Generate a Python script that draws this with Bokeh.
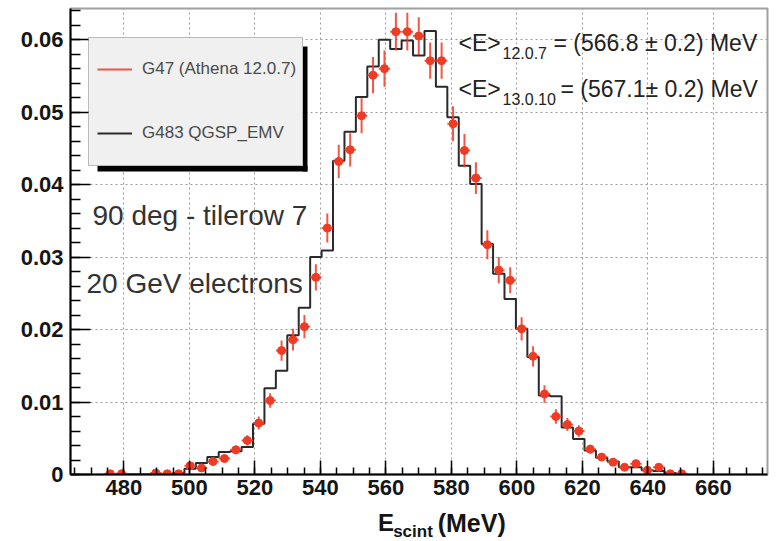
from bokeh.plotting import figure
from bokeh.layouts import column
from bokeh.models import (Range1d, SingleIntervalTicker, CustomJSTickFormatter, Label,
                          Legend, LegendItem, BoxAnnotation, ColumnDataSource)
from bokeh.embed import file_html
from bokeh.resources import INLINE

nan = float("nan")

# ---------------- data ----------------
bin_edges = [474.05, 477.54, 481.03, 484.52, 488.01, 491.50, 494.99, 498.48, 501.97, 505.46,
             508.95, 512.44, 515.93, 519.42, 522.91, 526.40, 529.89, 533.38, 536.87, 540.36,
             543.85, 547.34, 550.83, 554.32, 557.81, 561.30, 564.79, 568.28, 571.77, 575.26,
             578.75, 582.24, 585.73, 589.22, 592.71, 596.20, 599.69, 603.18, 606.67, 610.16,
             613.65, 617.14, 620.63, 624.12, 627.61, 631.10, 634.59, 638.08, 641.57, 645.06,
             648.55, 652.04]

# G47 (Athena 12.0.7): points with errors
g47_values = [0.0001, 0.0001, nan, nan, 0.0002, 0.0001, 0.0001, 0.0012, 0.0009, 0.0018,
              0.0022, 0.0034, 0.0047, 0.0071, 0.0102, 0.0171, 0.0186, 0.0204, 0.0272, 0.0340,
              0.0432, 0.0448, 0.0495, 0.0551, 0.0560, 0.0611, 0.0611, 0.0605, 0.0571, 0.0571,
              0.0484, 0.0447, 0.0409, 0.0317, 0.0282, 0.0268, 0.0201, 0.0163, 0.0111, 0.0080,
              0.0069, 0.0060, 0.0035, 0.0024, 0.0017, 0.0010, 0.0015, 0.0006, 0.0010, 0.0001,
              0.0001]
g47_errors = [0.0002, 0.0002, nan, nan, 0.0002, 0.0002, 0.0002, 0.0004, 0.0004, 0.0005,
              0.0005, 0.0006, 0.0007, 0.0009, 0.0010, 0.0014, 0.0015, 0.0016, 0.0018, 0.0020,
              0.0023, 0.0023, 0.0024, 0.0025, 0.0025, 0.0026, 0.0026, 0.0026, 0.0025, 0.0025,
              0.0024, 0.0023, 0.0022, 0.0020, 0.0018, 0.0018, 0.0016, 0.0014, 0.0012, 0.0010,
              0.0009, 0.0008, 0.0006, 0.0005, 0.0004, 0.0004, 0.0004, 0.0003, 0.0004, 0.0002,
              0.0002]

# G483 QGSP_EMV: step histogram
g483_values = [0.0, 0.0, 0.0, 0.0, 0.0, 0.0, 0.0002, 0.0008, 0.0016, 0.0024,
               0.0031, 0.0032, 0.0038, 0.0070, 0.0119, 0.0143, 0.0192, 0.0230, 0.0300, 0.0309,
               0.0433, 0.0473, 0.0521, 0.0563, 0.0600, 0.0587, 0.0599, 0.0578, 0.0612, 0.0535,
               0.0493, 0.0426, 0.0401, 0.0318, 0.0277, 0.0242, 0.0201, 0.0162, 0.0109, 0.0108,
               0.0065, 0.0049, 0.0033, 0.0023, 0.0018, 0.0010, 0.0010, 0.0006, 0.0005, 0.0002,
               0.0000]

series_names = ["G47 (Athena 12.0.7)", "G483 QGSP_EMV"]
mean_texts = [("<E>", "12.0.7", "= (566.8 \u00b1 0.2) MeV"),
              ("<E>", "13.0.10", "= (567.1\u00b1 0.2) MeV")]
info_texts = ["90 deg - tilerow 7", "20 GeV electrons"]
x_title = ("E", "scint", "(MeV)")

# ---------------- layout ----------------
W, H = 782, 541
H_MAIN = 506                      # main figure; axis title strip below it
FL, FR, FT, FB = 70, 767, 8, 474
X0, X1 = 463.7, 676.5
Y0, Y1 = 0.0, 0.0643
FONT = "Liberation Sans"


def px_x(px):
    return X0 + (px - FL) * (X1 - X0) / (FR - FL)


def px_y(py):
    return Y0 + (FB - py) * (Y1 - Y0) / (FB - FT)


p = figure(width=W, height=H_MAIN, output_backend="svg", toolbar_location=None,
           x_range=Range1d(X0, X1), y_range=Range1d(Y0, Y1),
           min_border_left=FL, min_border_right=W - FR, min_border_top=FT,
           min_border_bottom=H_MAIN - FB)
p.background_fill_color = "white"
p.border_fill_color = "white"
p.outline_line_color = "#a0a0a0"
p.outline_line_width = 2

# axes
p.xaxis.ticker = SingleIntervalTicker(interval=20, num_minor_ticks=4)
p.yaxis.ticker = SingleIntervalTicker(interval=0.01, num_minor_ticks=5)
p.yaxis.formatter = CustomJSTickFormatter(code="return Math.abs(tick) < 1e-9 ? '0' : tick.toFixed(2);")
for ax in (p.xaxis, p.yaxis):
    ax.axis_line_color = "black"
    ax.axis_line_width = 2
    ax.major_tick_line_color = "black"
    ax.minor_tick_line_color = "black"
    ax.major_tick_line_width = 1.5
    ax.minor_tick_line_width = 1.5
    ax.major_tick_out = 0
    ax.minor_tick_out = 0
    ax.major_label_text_font = FONT
    ax.major_label_text_font_style = "bold"
    ax.major_label_text_font_size = "22px"
    ax.major_label_text_color = "#151515"
p.xaxis.major_tick_in = 14
p.xaxis.minor_tick_in = 7
p.yaxis.major_tick_in = 20
p.yaxis.minor_tick_in = 10
p.xaxis.major_label_standoff = 5
p.yaxis.major_label_standoff = 7

for g in (p.xgrid, p.ygrid):
    g.grid_line_color = "#9a9a9a"
    g.grid_line_dash = "2 3"
    g.grid_line_width = 1

# ---------------- data renderers ----------------
centers = [(a + b) / 2 for a, b in zip(bin_edges[:-1], bin_edges[1:])]
lefts = bin_edges[:-1]
rights = bin_edges[1:]
src = ColumnDataSource(dict(
    x=centers, y=g47_values, left=lefts, right=rights,
    lo=[v - e for v, e in zip(g47_values, g47_errors)],
    hi=[v + e for v, e in zip(g47_values, g47_errors)]))

step_x = list(bin_edges)
step_y = list(g483_values) + [g483_values[-1]]
hist = p.step(x=step_x, y=step_y, mode="after", line_color="#2a2a2a", line_width=2)

RED = "#f03a24"
ebar_v = p.segment(x0="x", y0="lo", x1="x", y1="hi", source=src,
                   line_color=RED, line_width=2, line_alpha=0.85)
ebar_h = p.segment(x0="left", y0="y", x1="right", y1="y", source=src,
                   line_color=RED, line_width=2, line_alpha=0.85)
pts = p.scatter(x="x", y="y", source=src, size=8, fill_color=RED, line_color=RED)

# ---------------- legend (box, drop shadow, entries) ----------------
box = BoxAnnotation(left=px_x(88), right=px_x(302), top=px_y(37), bottom=px_y(165),
                    fill_color="#f0f0f0", fill_alpha=1.0, line_color="#333333", line_width=1)
shadow_right = BoxAnnotation(left=px_x(302.5), right=px_x(307), top=px_y(46), bottom=px_y(171),
                             fill_color="black", fill_alpha=1.0, line_alpha=0.0)
shadow_bottom = BoxAnnotation(left=px_x(97), right=px_x(307), top=px_y(165.5), bottom=px_y(171),
                              fill_color="black", fill_alpha=1.0, line_alpha=0.0)
p.add_layout(box)
p.add_layout(shadow_right)
p.add_layout(shadow_bottom)

legend = Legend(items=[LegendItem(label=series_names[0], renderers=[ebar_h]),
                       LegendItem(label=series_names[1], renderers=[hist])],
                location=(97 - FL, FB - 143), padding=0, margin=0, spacing=44,
                glyph_width=35, glyph_height=20, label_height=20, label_standoff=10,
                label_text_font=FONT, label_text_font_size="17px", label_text_color="#4a4a4a",
                background_fill_alpha=0.0, border_line_alpha=0.0)
p.add_layout(legend)


def add_label(fig, text, x, y, size, color="#222222", style="normal"):
    fig.add_layout(Label(x=x, y=y, text=text, text_font=FONT,
                         text_font_size=size, text_font_style=style, text_color=color,
                         text_align="left", text_baseline="middle"))


# mean energy annotations
(m1a, m1b, m1c), (m2a, m2b, m2c) = mean_texts
add_label(p, m1a, px_x(458), px_y(42), "23px")
add_label(p, m1b, px_x(502), px_y(52), "16px")
add_label(p, m1c, px_x(553), px_y(42), "23px")
add_label(p, m2a, px_x(458), px_y(88), "23px")
add_label(p, m2b, px_x(502), px_y(98), "16px")
add_label(p, m2c, px_x(560), px_y(88), "23px")

# run conditions
add_label(p, info_texts[0], px_x(92), px_y(215), "28px", color="#333333")
add_label(p, info_texts[1], px_x(86), px_y(283), "28px", color="#333333")

# ---------------- x-axis title strip ----------------
t = figure(width=W, height=H - H_MAIN, output_backend="svg", toolbar_location=None,
           x_range=Range1d(0, W), y_range=Range1d(H, H_MAIN),
           min_border_left=0, min_border_right=0, min_border_top=0, min_border_bottom=0)
t.axis.visible = False
t.grid.visible = False
t.outline_line_color = None
t.background_fill_color = "white"
t.border_fill_color = "white"
add_label(t, x_title[0], 345, 522, "24px", color="#151515", style="bold")
add_label(t, x_title[1], 362, 531, "17px", color="#151515", style="bold")
add_label(t, x_title[2], 412, 522, "25px", color="#151515", style="bold")

layout = column(p, t, spacing=0)
open("out.html", "w").write(file_html(layout, INLINE))
